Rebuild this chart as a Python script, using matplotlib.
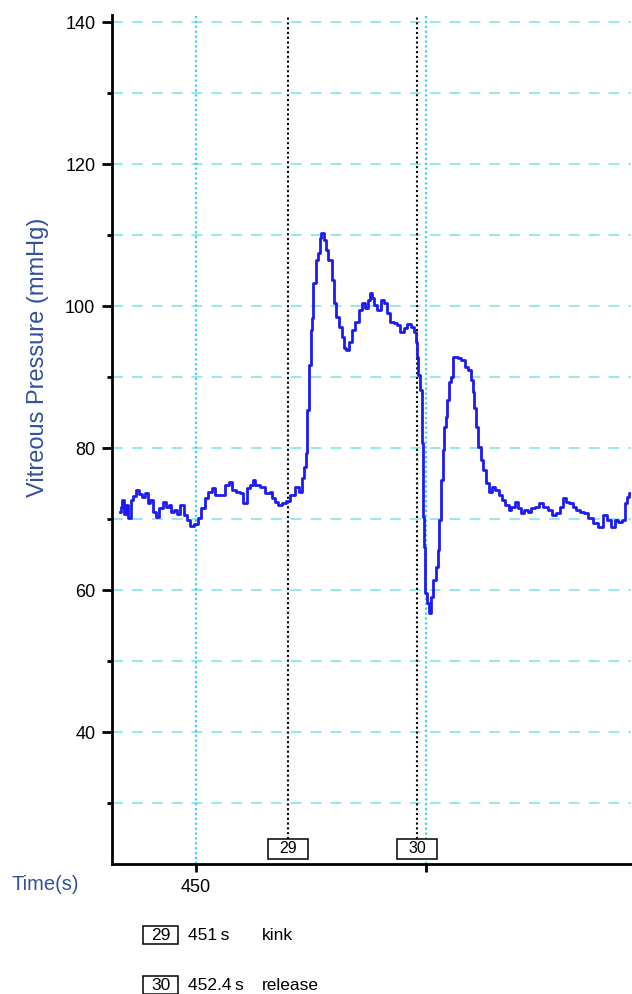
import numpy as np
import matplotlib
matplotlib.use("Agg")
import matplotlib.pyplot as plt
import matplotlib.transforms as mtransforms
from matplotlib.patches import Rectangle

plt.rcParams['font.family'] = ['Liberation Sans', 'DejaVu Sans']

# vitreous pressure trace
time_s = [
    449.175, 449.197, 449.207, 449.229, 449.251, 449.273, 449.305, 449.327, 449.370, 449.403,
    449.425, 449.457, 449.490, 449.522, 449.555, 449.587, 449.620, 449.653, 449.685, 449.718,
    449.750, 449.783, 449.815, 449.848, 449.881, 449.913, 449.957, 450.000, 450.033, 450.076,
    450.109, 450.152, 450.185, 450.228, 450.293, 450.337, 450.369, 450.402, 450.456, 450.499,
    450.532, 450.565, 450.608, 450.619, 450.673, 450.727, 450.782, 450.825, 450.836, 450.879,
    450.912, 450.966, 450.999, 451.053, 451.097, 451.140, 451.162, 451.183, 451.205, 451.216,
    451.238, 451.259, 451.270, 451.281, 451.314, 451.325, 451.357, 451.368, 451.401, 451.422,
    451.455, 451.488, 451.509, 451.531, 451.564, 451.596, 451.607, 451.640, 451.672, 451.705,
    451.748, 451.781, 451.813, 451.857, 451.868, 451.900, 451.922, 451.954, 451.987, 452.020,
    452.052, 452.085, 452.128, 452.161, 452.193, 452.237, 452.269, 452.313, 452.356, 452.378,
    452.389, 452.400, 452.421, 452.443, 452.454, 452.465, 452.486, 452.497, 452.519, 452.541,
    452.562, 452.584, 452.617, 452.628, 452.649, 452.671, 452.682, 452.704, 452.725, 452.736,
    452.758, 452.780, 452.801, 452.834, 452.866, 452.899, 452.942, 452.975, 452.997, 453.008,
    453.029, 453.051, 453.073, 453.105, 453.138, 453.170, 453.192, 453.225, 453.268, 453.301,
    453.333, 453.377, 453.409, 453.442, 453.485, 453.518, 453.550, 453.583, 453.616, 453.659,
    453.702, 453.746, 453.789, 453.844, 453.876, 453.931, 453.974, 453.996, 454.028, 454.072,
    454.104, 454.137, 454.191, 454.234, 454.278, 454.332, 454.387, 454.441, 454.473, 454.528,
    454.560, 454.604, 454.647, 454.669, 454.691, 454.713,
]
pressure_mmhg = [
    71.0, 71.7, 72.7, 70.7, 72.0, 70.1, 72.7, 73.2, 74.1, 73.5,
    73.1, 73.7, 72.3, 72.7, 71.0, 70.3, 71.5, 72.4, 71.7, 72.0,
    71.0, 71.3, 70.7, 72.0, 70.6, 69.9, 69.0, 69.3, 70.1, 71.5,
    73.0, 73.8, 74.4, 73.4, 73.4, 74.8, 75.2, 74.1, 73.8, 73.7,
    72.3, 74.4, 74.8, 75.5, 74.8, 74.5, 73.7, 73.8, 73.0, 72.4,
    72.0, 72.3, 72.5, 73.4, 74.5, 73.8, 75.8, 77.3, 79.3, 85.4,
    91.7, 96.6, 98.3, 103.2, 106.5, 107.5, 109.6, 110.3, 109.3, 107.9,
    106.5, 103.7, 100.4, 98.5, 97.0, 95.6, 94.1, 93.8, 94.9, 96.6,
    97.7, 99.4, 100.4, 99.7, 100.8, 101.8, 101.1, 100.1, 99.4, 100.8,
    100.4, 99.0, 97.7, 97.6, 97.3, 96.3, 96.9, 97.5, 97.0, 96.3,
    94.9, 92.8, 90.3, 88.2, 80.7, 70.3, 66.1, 59.6, 58.2, 56.8,
    59.0, 61.4, 63.2, 65.6, 69.9, 75.5, 79.7, 83.0, 84.4, 86.8,
    89.3, 90.0, 92.8, 92.8, 92.7, 92.4, 91.4, 91.0, 89.6, 87.9,
    85.6, 83.0, 80.1, 78.3, 76.9, 75.1, 73.8, 74.5, 74.1, 73.4,
    72.7, 72.0, 71.3, 71.7, 72.4, 71.5, 70.8, 71.3, 71.0, 71.5,
    71.7, 72.3, 71.7, 71.3, 70.6, 70.8, 71.7, 73.0, 72.4, 72.3,
    71.7, 71.3, 71.0, 70.8, 70.1, 69.4, 68.9, 70.6, 69.9, 68.9,
    69.9, 69.6, 69.9, 72.3, 73.1, 73.7,
]

# event markers
marker_ids = ['29', '30']
marker_times = [451.0, 452.4]
marker_time_labels = ['451\u2009s', '452.4\u2009s']
marker_desc = ['kink', 'release']

y_major = [40, 60, 80, 100, 120, 140]
y_minor = [30, 50, 70, 90, 110, 130]
x_ticks = [450, 452.5]
x_ticklabels = ['450', '']

label_blue = '#34509c'

fig = plt.figure(figsize=(6.32, 9.94), dpi=100)
ax = fig.add_axes([112 / 632, 130 / 994, 519 / 632, 849 / 994])

ax.plot(time_s, pressure_mmhg, color='#1c1cf0', lw=2.0, drawstyle='steps-mid',
        zorder=4)

ax.set_xlim(449.088, 454.723)
ax.set_ylim(21.41, 141.0)

# grid
for yv in y_major + y_minor:
    ax.axhline(yv, color='#8fe6ec', lw=1.3, dashes=(6, 5), zorder=1)
for xv in x_ticks:
    ax.axvline(xv, color='#3fd3e3', lw=1.6, ls=(0, (1, 1.2)), zorder=2)

# event lines and boxes
trans = mtransforms.blended_transform_factory(ax.transData, ax.transAxes)
for mid, mt in zip(marker_ids, marker_times):
    ax.axvline(mt, ymin=0.0295, ymax=1.0, color='black', lw=1.5,
               ls=(0, (1, 1.3)), zorder=3)
    ax.add_patch(Rectangle((mt - 0.217, 0.0059), 0.434, 0.0236, transform=trans,
                           fc='white', ec='black', lw=1.1, zorder=5))
    ax.text(mt, 0.0177, mid, transform=trans, ha='center', va='center',
            fontsize=11.5, zorder=6)

for side in ['top', 'right']:
    ax.spines[side].set_visible(False)
for side in ['left', 'bottom']:
    ax.spines[side].set_linewidth(2)

ax.set_yticks(y_major)
ax.set_yticks(y_minor, minor=True)
ax.set_xticks(x_ticks)
ax.set_xticklabels(x_ticklabels)
ax.tick_params(axis='y', which='major', length=7, width=2, pad=5, labelsize=13)
ax.tick_params(axis='y', which='minor', length=3.5, width=2)
ax.tick_params(axis='x', which='major', length=6, width=2, pad=5, labelsize=13)

fig.text(38 / 632, 1 - 357 / 994, 'Vitreous Pressure (mmHg)', rotation=90,
         ha='center', va='center', fontsize=17, color=label_blue)
fig.text(12 / 632, 1 - 884 / 994, 'Time(s)', ha='left', va='center',
         fontsize=14.5, color=label_blue)

# legend of events below the axis
row_y = [935, 985]
for mid, tl, desc, ry in zip(marker_ids, marker_time_labels, marker_desc, row_y):
    yc = 1 - ry / 994
    fig.patches.append(Rectangle((143 / 632, yc - 9 / 994), 35 / 632, 18 / 994,
                                 transform=fig.transFigure, fc='white',
                                 ec='black', lw=1.1))
    fig.text(160.5 / 632, yc, mid, ha='center', va='center', fontsize=12.5)
    fig.text(188 / 632, yc, tl, ha='left', va='center', fontsize=12.5)
    fig.text(262 / 632, yc, desc, ha='left', va='center', fontsize=12.5)

fig.savefig('out.png', dpi=100)
